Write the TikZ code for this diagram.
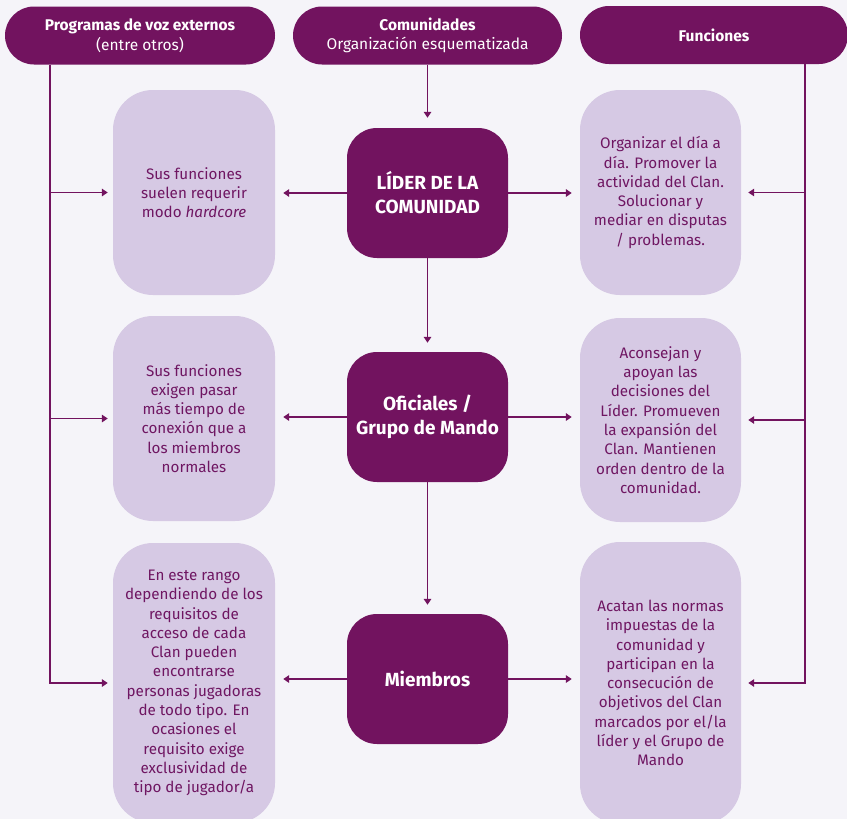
\documentclass[tikz,border=0pt]{standalone}
\usepackage{fontspec}
\setmainfont{Fira Sans}
\usetikzlibrary{arrows.meta}
\definecolor{dk}{HTML}{72135F}
\definecolor{lt}{HTML}{D6C9E4}
\definecolor{bg}{HTML}{F5F4F9}
\definecolor{tx}{HTML}{6F1662}
\begin{document}
\begin{tikzpicture}[x=1pt,y=-1pt,
 hdr/.style={fill=dk, text=white, rounded corners=29pt, minimum width=270pt, minimum height=58pt, inner sep=0pt, align=center, font=\fontsize{15.5}{19.5}\selectfont},
 dkbox/.style={fill=dk, text=white, rounded corners=30pt, minimum width=161pt, minimum height=130pt, inner sep=0pt, align=center, font=\fontsize{19}{24}\selectfont\bfseries},
 ltbox/.style={fill=lt, text=tx, rounded corners=40pt, minimum width=162pt, inner sep=0pt, align=center, font=\fontsize{15.2}{19.3}\selectfont},
 conn/.style={draw=dk, line width=1.9pt, -{Triangle[length=6pt,width=7.5pt]}}]
\fill[bg] (0,0) rectangle (847,819);
\useasboundingbox (0,0) rectangle (847,819);
\clip (0,0) rectangle (847,819);
% headers
\node[hdr] (h1) at (140,35.5) {\textbf{Programas de voz externos}\\(entre otros)};
\node[hdr, minimum width=269pt] (h2) at (427.5,35.5) {\textbf{Comunidades}\\Organización esquematizada};
\node[hdr, minimum width=268pt] (h3) at (714,35) {\textbf{Funciones}};
% center boxes
\node[dkbox] (c1) at (427.5,193) {LÍDER DE LA\\COMUNIDAD};
\node[dkbox] (c2) at (427.5,417) {Oficiales /\\Grupo de Mando};
\node[dkbox] (c3) at (427.5,679) {Miembros};
% left boxes
\node[ltbox, minimum height=205pt] (l1) at (194,192.5) {Sus funciones\\suelen requerir\\modo \textit{hardcore}};
\node[ltbox, minimum height=205pt] (l2) at (194,418.5) {Sus funciones\\exigen pasar\\más tiempo de\\conexión que a\\los miembros\\normales};
\node[ltbox, minimum height=280pt] (l3) at (194,683) {En este rango\\dependiendo de los\\requisitos de\\acceso de cada\\Clan pueden\\encontrarse\\personas jugadoras\\de todo tipo. En\\ocasiones el\\requisito exige\\exclusividad de\\tipo de jugador/a};
% right boxes
\node[ltbox, minimum width=161pt, minimum height=205pt] (r1) at (660.5,192.5) {Organizar el día a\\día. Promover la\\actividad del Clan.\\Solucionar y\\mediar en disputas\\/ problemas.};
\node[ltbox, minimum width=161pt, minimum height=204pt] (r2) at (660.5,420) {Aconsejan y\\apoyan las\\decisiones del\\Líder. Promueven\\la expansión del\\Clan. Mantienen\\orden dentro de la\\comunidad.};
\node[ltbox, minimum width=161pt, minimum height=282pt] (r3) at (660.5,683) {Acatan las normas\\impuestas de la\\comunidad y\\participan en la\\consecución de\\objetivos del Clan\\marcados por el/la\\líder y el Grupo de\\Mando};
% vertical chain
\draw[conn, shorten >=10pt] (h2) -- (c1);
\draw[conn, shorten >=9pt] (c1) -- (c2);
\draw[conn, shorten >=9pt] (c2) -- (c3);
% horizontal from center
\draw[conn, shorten >=8pt] (c1.west) -- (c1.west -| l1.east);
\draw[conn, shorten >=8pt] (c1.east) -- (c1.east -| r1.west);
\draw[conn, shorten >=8pt] (c2.west) -- (c2.west -| l2.east);
\draw[conn, shorten >=8pt] (c2.east) -- (c2.east -| r2.west);
\draw[conn, shorten >=8pt] (c3.west) -- (c3.west -| l3.east);
\draw[conn, shorten >=8pt] (c3.east) -- (c3.east -| r3.west);
% side lines
\coordinate (Ltop) at ([xshift=-90pt]h1.south);
\coordinate (Rtop) at ([xshift=91pt]h3.south);
\draw[conn, shorten >=5pt] (Ltop) |- (l3.west);
\draw[conn, shorten >=5pt] (Ltop |- l1.west) -- (l1.west);
\draw[conn, shorten >=5pt] (Ltop |- l2.west) -- (l2.west);
\draw[conn, shorten >=7pt] (Rtop) |- (r3.east);
\draw[conn, shorten >=7pt] (Rtop |- r1.east) -- (r1.east);
\draw[conn, shorten >=7pt] (Rtop |- r2.east) -- (r2.east);
\end{tikzpicture}
\end{document}
